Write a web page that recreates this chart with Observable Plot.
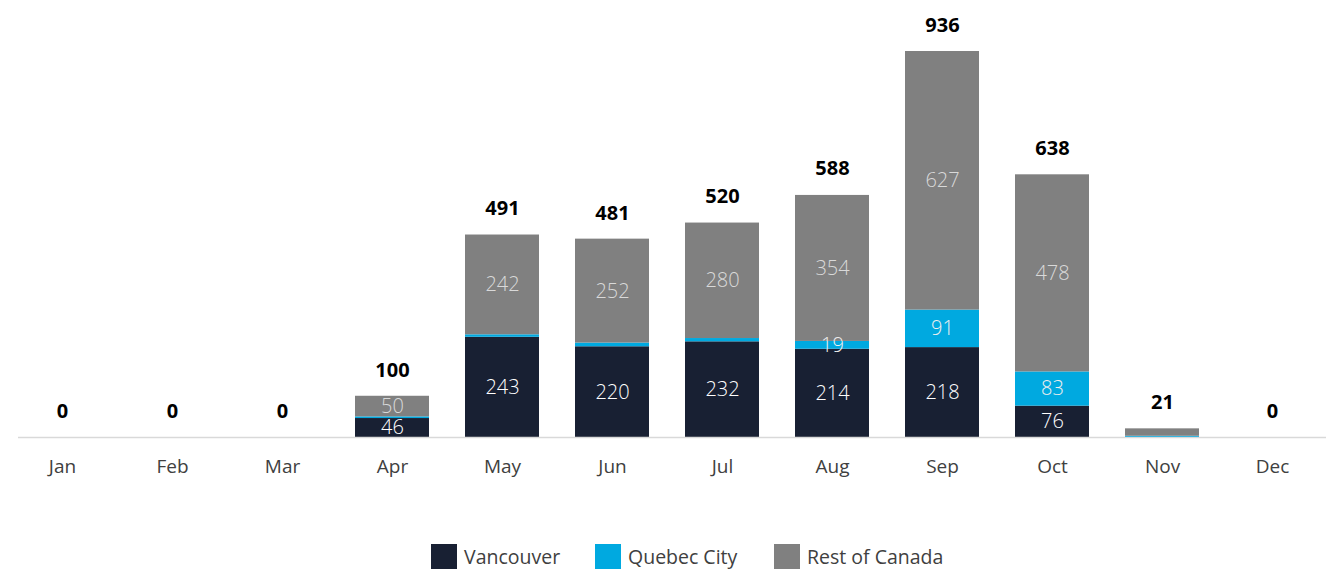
<!DOCTYPE html>
<html>
<head>
<meta charset="utf-8">
<script src="https://cdn.jsdelivr.net/npm/d3@7"></script>
<script src="https://cdn.jsdelivr.net/npm/@observablehq/plot@0.6"></script>
<style>
  body { margin: 0; background: #fff; font-family: "Open Sans", sans-serif; }
  #wrap { position: relative; width: 1326px; height: 569px; overflow: hidden; }
  .item { position: absolute; top: 543px; display: flex; align-items: center; font-size: 19.5px; color: #404040; white-space: nowrap; }
  .sw { width: 26px; height: 26px; margin-right: 7px; }
</style>
</head>
<body>
<div id="wrap"><div id="chart"></div></div>
<script>
const months = ["Jan","Feb","Mar","Apr","May","Jun","Jul","Aug","Sep","Oct","Nov","Dec"];
const seriesNames = ["Vancouver","Quebec City","Rest of Canada"];
const seriesColors = ["#182033","#00a9e0","#808080"];
const vancouver = [0,0,0,46,243,220,232,214,218,76,0,0];
const quebecCity = [0,0,0,4,6,9,8,19,91,83,3,0];
const restOfCanada = [0,0,0,50,242,252,280,354,627,478,18,0];
const totals = [0,0,0,100,491,481,520,588,936,638,21,0];
const labelColors = ["#ffffff","#eeeeee","#d9d9d9"];

const seriesValues = [vancouver, quebecCity, restOfCanada];
const data = [];
months.forEach((m, i) => {
  seriesNames.forEach((s, j) => data.push({month: m, series: s, value: seriesValues[j][i], lc: labelColors[j]}));
});
const totalData = months.map((m, i) => ({month: m, total: totals[i]}));

const chart = Plot.plot({
  width: 1326,
  height: 500,
  marginLeft: 8,
  marginRight: 0,
  marginTop: 51,
  marginBottom: 63,
  style: {fontFamily: "Open Sans, sans-serif", background: "#fff"},
  x: {domain: months, paddingInner: 0.33, paddingOuter: 0.155, label: null},
  y: {domain: [0, 936], nice: false, axis: null},
  color: {domain: seriesNames, range: seriesColors},
  marks: [
    Plot.barY(data, {x: "month", y: "value", z: "series", fill: "series"}),
    Plot.ruleY([0], {stroke: "#d9d9d9", strokeWidth: 1.5, insetLeft: 10}),
    Plot.text(data, Plot.stackY({
      x: "month", y: "value", z: "series",
      text: d => d.value >= 19 ? String(d.value) : "",
      fill: "lc", fontSize: 20, fontWeight: 300
    })),
    Plot.text(totalData, {x: "month", y: "total", text: d => String(d.total), dy: -26, fontSize: 20, fontWeight: "bold", fill: "#000"}),
    Plot.axisX({tickSize: 0, tickPadding: 22, fontSize: 19, color: "#404040", label: null})
  ]
});
document.getElementById("chart").appendChild(chart);

const wrap = document.getElementById("wrap");
const legendLeft = [431, 595, 774];
seriesNames.forEach((s, i) => {
  const item = document.createElement("div");
  item.className = "item";
  item.style.left = legendLeft[i] + "px";
  const sw = document.createElement("div");
  sw.className = "sw";
  sw.style.background = seriesColors[i];
  const t = document.createElement("span");
  t.textContent = s;
  item.appendChild(sw); item.appendChild(t);
  wrap.appendChild(item);
});
</script>
</body>
</html>
